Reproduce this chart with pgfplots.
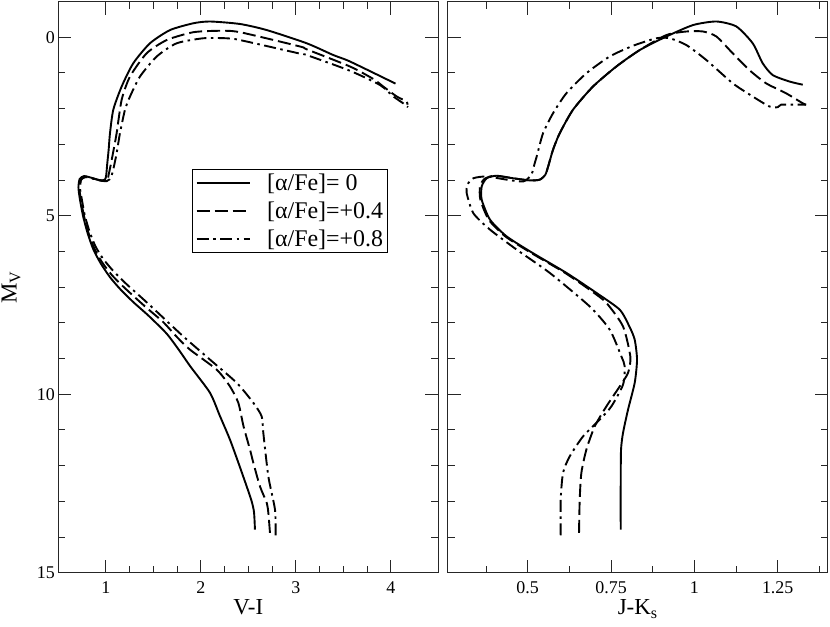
\documentclass[border=0pt]{standalone}
\usepackage{fontspec}
\setmainfont{Liberation Serif}
\usepackage{pgfplots}
\pgfplotsset{compat=1.18}
\begin{document}
\begin{tikzpicture}
\path[use as bounding box] (0,0) rectangle (830bp,627bp);
\pgfplotsset{
  cmd/.style={
    scale only axis, width=380bp, height=571.3bp,
    y dir=reverse, ymin=-1, ymax=15,
    ytick={0,5,10,15}, minor y tick num=4,
    tick align=inside, major tick length=13bp, minor tick length=7bp,
    axis line style={line width=1.1bp, black!85},
    every tick/.style={line width=1bp, black!85},
    tick label style={font=\fontsize{18}{18}\selectfont},
    /pgf/number format/assume math mode=true,
    xticklabel style={anchor=base, yshift=-21bp},
    label style={font=\fontsize{23}{23}\selectfont},
    xlabel style={at={(axis description cs:0.5,0)}, anchor=base, yshift=-42bp},
    every axis plot/.append style={line width=1.9bp, black, smooth, tension=0.4},
  },
  solidc/.style={solid},
  dashc/.style={dash pattern=on 13bp off 5bp},
  dotc/.style={dash pattern=on 12bp off 4.5bp on 2.5bp off 4.5bp},
}
\begin{axis}[cmd, at={(58.3bp,54.2bp)}, anchor=south west,
  xmin=0.5, xmax=4.5, xtick={1,2,3,4}, minor x tick num=3,
  xlabel={V-I}, ylabel={M\textsubscript{V}},
  ylabel style={at={(axis description cs:-0.124,0.5)}, anchor=center},
  legend cell align=left,
  legend style={at={(0.3526,0.7074)}, anchor=north west, draw=black, line width=0.9bp,
    font=\fontsize{24}{24}\selectfont, row sep=7bp, inner xsep=3bp, inner ysep=3bp,
    nodes={inner sep=1.5bp},
    /tikz/every odd column/.append style={column sep=15bp}},
  legend image code/.code={\draw[#1, line width=1.9bp] (0bp,0bp) -- (53bp,0bp);},
]
\addplot[solidc] coordinates {
(2.57,13.79) (2.56,13.3) (2.53,12.95) (2.42,12.1) (2.307,11.27) (2.20,10.6)
(2.097,9.96) (1.89,9.22) (1.77,8.76) (1.64,8.30) (1.45,7.80) (1.29,7.42)
(1.15,7.05) (1.044,6.72) (0.95,6.35) (0.87,5.95) (0.81,5.5) (0.76,5.0)
(0.725,4.5) (0.712,4.2) (0.725,3.97) (0.77,3.89) (0.84,3.93) (0.91,3.99)
(0.965,4.01) (0.995,3.97) (1.005,3.85) (1.015,3.55) (1.03,3.15) (1.044,2.69)
(1.079,2.03) (1.167,1.38) (1.289,0.73) (1.465,0.17) (1.676,-0.20) (1.921,-0.39)
(2.097,-0.44) (2.413,-0.37) (2.694,-0.20) (3.115,0.17) (3.395,0.50) (3.57,0.68) (4.05,1.30)
};
\addlegendentry{[α/Fe]= 0}
\addplot[dashc] coordinates {
(2.728,13.88) (2.711,13.32) (2.694,13.04) (2.623,12.58) (2.553,11.92) (2.518,11.55)
(2.45,10.9) (2.395,10.24) (2.307,9.78) (2.167,9.31) (1.886,8.75) (1.75,8.4)
(1.605,7.98) (1.43,7.58) (1.30,7.27) (1.17,6.95) (1.06,6.65) (0.96,6.3) (0.88,5.92)
(0.82,5.5) (0.77,5.0) (0.735,4.5) (0.72,4.2) (0.73,3.98) (0.775,3.9) (0.85,3.94)
(0.93,4.0) (0.99,4.02) (1.02,3.97) (1.03,3.85) (1.05,3.6) (1.079,3.2) (1.114,2.69)
(1.167,1.75) (1.255,1.10) (1.43,0.45) (1.641,0.08) (1.921,-0.14) (2.202,-0.18)
(2.413,-0.14) (3.044,0.26) (3.115,0.34) (3.57,0.82) (3.816,1.17) (3.92,1.38)
(4.062,1.66) (4.167,1.80) (4.174,1.89)
};
\addlegendentry{[α/Fe]=+0.4}
\addplot[dotc] coordinates {
(2.788,13.95) (2.781,13.23) (2.711,12.30) (2.658,11.08) (2.641,10.62) (2.553,10.24)
(2.378,9.68) (2.097,9.03) (1.816,8.38) (1.570,7.77) (1.40,7.35) (1.22,6.92)
(1.08,6.55) (0.97,6.2) (0.89,5.85) (0.83,5.45) (0.78,5.0) (0.745,4.5) (0.73,4.25)
(0.74,4.0) (0.785,3.92) (0.86,3.96) (0.95,4.02) (1.01,4.03) (1.04,3.98) (1.06,3.88)
(1.079,3.7) (1.114,3.25) (1.149,2.69) (1.202,2.03) (1.255,1.66) (1.36,1.10)
(1.536,0.54) (1.746,0.17) (2.026,0.03) (2.27,0.03) (2.413,0.08) (3.044,0.46)
(3.115,0.50) (3.57,0.94) (3.887,1.34) (4.027,1.66) (4.13,1.85) (4.18,1.96)
};
\addlegendentry{[α/Fe]=+0.8}
\end{axis}
\begin{axis}[cmd, at={(447.7bp,54.2bp)}, anchor=south west,
  xmin=0.26, xmax=1.4, xtick={0.5,0.75,1,1.25}, xticklabels={0.5,0.75,1,1.25},
  minor xtick={0.375,0.625,0.875,1.125,1.375},
  yticklabels={}, xlabel={J-K\textsubscript{s}},
]
\addplot[solidc] coordinates {
(0.779,13.79) (0.779,12.5) (0.780,11.55) (0.786,11.08) (0.801,10.43) (0.821,9.68)
(0.828,9.03) (0.821,8.47) (0.805,8.1) (0.776,7.63) (0.706,7.16) (0.616,6.60)
(0.516,6.05) (0.437,5.58) (0.387,5.11) (0.362,4.55) (0.362,4.18) (0.377,3.95)
(0.407,3.88) (0.456,3.95) (0.506,4.01) (0.536,3.99) (0.553,3.85) (0.562,3.6)
(0.576,3.15) (0.596,2.69) (0.636,2.03) (0.696,1.38) (0.766,0.82) (0.836,0.36)
(0.916,-0.02) (0.996,-0.34) (1.066,-0.44) (1.126,-0.30) (1.175,0.17) (1.205,0.73)
(1.235,1.06) (1.285,1.24) (1.325,1.33)
};
\addplot[dashc] coordinates {
(0.654,13.88) (0.656,12.95) (0.661,12.20) (0.676,11.55) (0.701,10.90) (0.736,10.34)
(0.776,9.78) (0.801,9.40) (0.808,8.95) (0.786,8.10) (0.736,7.44) (0.69,7.1)
(0.612,6.6) (0.512,6.05) (0.433,5.58) (0.383,5.11) (0.358,4.55) (0.357,4.18)
(0.37,3.97) (0.40,3.88) (0.456,3.95) (0.506,4.01) (0.536,3.99) (0.553,3.85)
(0.562,3.6) (0.576,3.15) (0.596,2.69) (0.636,2.03) (0.696,1.38) (0.766,0.82)
(0.836,0.36) (0.916,-0.06) (0.976,-0.16) (1.026,-0.16) (1.066,-0.02) (1.115,0.45)
(1.165,0.92) (1.215,1.29) (1.275,1.57) (1.325,1.85) (1.335,1.89)
};
\addplot[dotc] coordinates {
(0.599,13.95) (0.599,12.95) (0.606,12.20) (0.626,11.74) (0.666,11.18) (0.716,10.71)
(0.751,10.34) (0.786,9.73) (0.791,9.22) (0.781,8.94) (0.746,8.19) (0.686,7.54)
(0.566,6.60) (0.467,5.95) (0.387,5.39) (0.337,4.93) (0.317,4.37) (0.319,4.13)
(0.337,3.95) (0.377,3.90) (0.437,3.99) (0.487,4.04) (0.511,3.85) (0.521,3.53)
(0.527,3.34) (0.546,2.69) (0.576,2.13) (0.616,1.57) (0.676,1.01) (0.746,0.54)
(0.816,0.24) (0.886,0.03) (0.926,0.03) (0.976,0.22) (1.036,0.64) (1.115,1.29)
(1.175,1.66) (1.225,1.94) (1.25,1.96) (1.26,1.89) (1.295,1.89) (1.335,1.89)
};
\end{axis}
\end{tikzpicture}
\end{document}
